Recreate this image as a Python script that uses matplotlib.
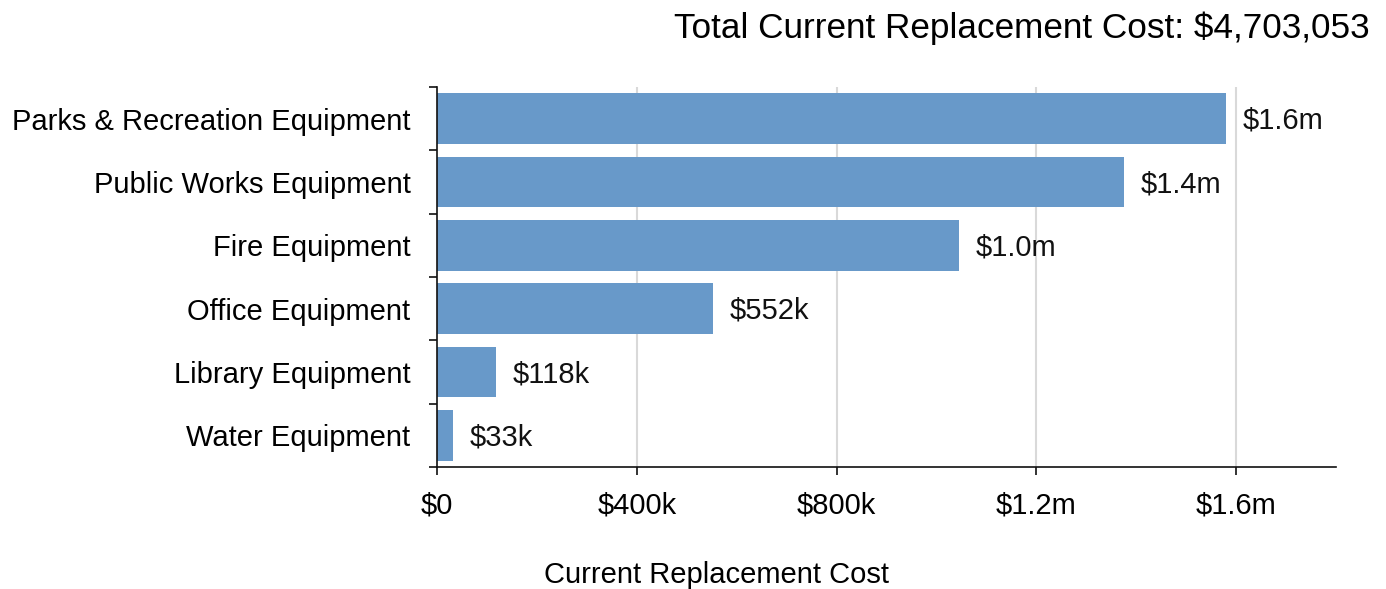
import matplotlib
matplotlib.use("Agg")
import matplotlib.pyplot as plt
import numpy as np
from matplotlib.ticker import FixedLocator, FuncFormatter

# Equipment replacement costs (USD), top to bottom
categories = [
    "Parks & Recreation Equipment",
    "Public Works Equipment",
    "Fire Equipment",
    "Office Equipment",
    "Library Equipment",
    "Water Equipment",
]
costs = [1579000, 1376000, 1045053, 552000, 118000, 33000]
bar_labels = ["$1.6m", "$1.4m", "$1.0m", "$552k", "$118k", "$33k"]
x_ticks = [0, 400000, 800000, 1200000, 1600000]
x_tick_labels = ["$0", "$400k", "$800k", "$1.2m", "$1.6m"]

BAR_COLOUR = "#6899c9"
FS = 21
plt.rcParams["font.family"] = ["Liberation Sans", "DejaVu Sans"]

fig = plt.figure(figsize=(13.86, 5.89), dpi=100)
ax = fig.add_axes([437 / 1386, 1 - 467 / 589, (1336 - 437) / 1386, (467 - 87) / 589])

n = len(categories)
ypos = np.arange(n)[::-1]
ax.barh(ypos, costs, height=0.8, color=BAR_COLOUR, zorder=2)

for y, v, lab in zip(ypos, costs, bar_labels):
    ax.annotate(lab, (v, y), xytext=(12, -1.5), textcoords="offset points",
                va="center", ha="left", fontsize=FS, color="#111111")

ax.set_xlim(0, 1800000)
ax.set_ylim(-0.5, n - 0.5)

ax.xaxis.set_major_locator(FixedLocator(x_ticks))
ax.xaxis.set_major_formatter(FuncFormatter(lambda v, p: x_tick_labels[x_ticks.index(v)] if v in x_ticks else ""))
ax.tick_params(axis="x", length=6, width=1.2, labelsize=FS, pad=12, color="#111111")

# category names centred in rows, ticks on row boundaries
ax.set_yticks(ypos)
ax.set_yticklabels(categories)
ax.yaxis.set_minor_locator(FixedLocator(np.arange(-0.5, n, 1.0)))
ax.tick_params(axis="y", which="major", length=0, labelsize=FS, pad=19)
ax.tick_params(axis="y", which="minor", length=6, width=1.2, color="#111111")

for xv in x_ticks[1:]:
    ax.axvline(xv, color="#d9d9d9", lw=1.5, zorder=1)

for side in ("top", "right"):
    ax.spines[side].set_visible(False)
for side in ("left", "bottom"):
    ax.spines[side].set_linewidth(1.2)
    ax.spines[side].set_color("#111111")

fig.text(1370 / 1386, 1 - 28 / 589, "Total Current Replacement Cost: $4,703,053",
         ha="right", va="center", fontsize=25.3)
fig.text(716 / 1386, 1 - 575 / 589, "Current Replacement Cost",
         ha="center", va="center", fontsize=FS)

fig.savefig("out.png", dpi=100)
